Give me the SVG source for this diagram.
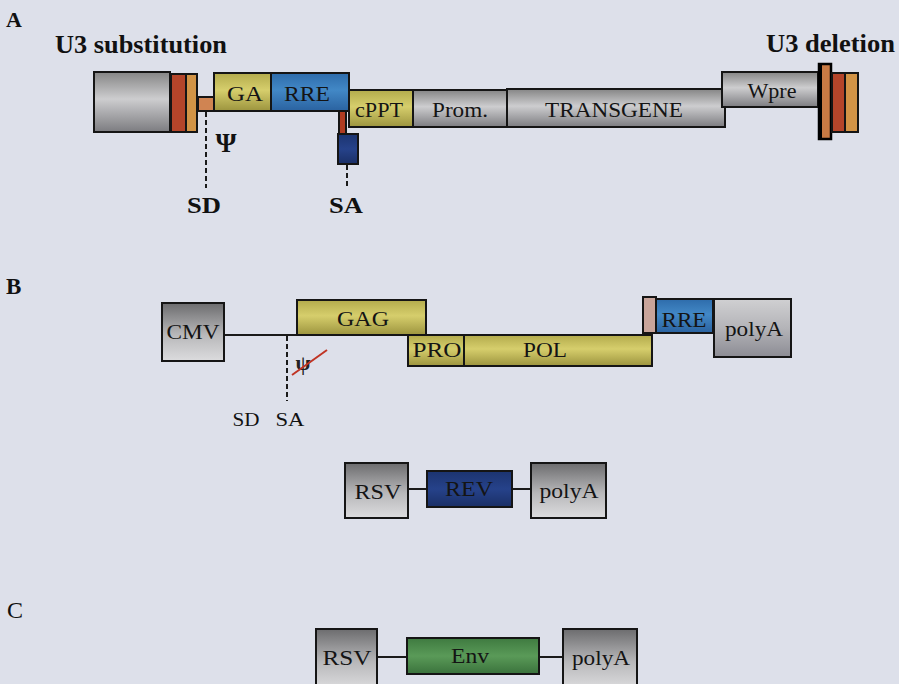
<svg xmlns="http://www.w3.org/2000/svg" width="899" height="684" viewBox="0 0 899 684">
<style>
.box{stroke:#151515;stroke-width:2}
.lbl{font-family:"Liberation Serif","DejaVu Serif",serif;font-size:21px;fill:#141414;text-anchor:middle}
.ttl{font-family:"Liberation Serif","DejaVu Serif",serif;font-weight:bold;fill:#111}
.wire{stroke:#1a1a1a;stroke-width:2;fill:none}
.dash{stroke:#1a1a1a;stroke-width:2;stroke-dasharray:5,3;fill:none}
</style>
<defs>
<linearGradient id="gGray" x1="0" y1="0" x2="0" y2="1"><stop offset="0" stop-color="#858585"/><stop offset="0.45" stop-color="#cdcdcf"/><stop offset="1" stop-color="#7c7c80"/></linearGradient>
<linearGradient id="gGrayB" x1="0" y1="0" x2="0" y2="1"><stop offset="0" stop-color="#6c6c6e"/><stop offset="0.55" stop-color="#b8b8ba"/><stop offset="1" stop-color="#dcdcde"/></linearGradient>
<linearGradient id="gGrayP" x1="0" y1="0" x2="0" y2="1"><stop offset="0" stop-color="#d0d0d2"/><stop offset="0.5" stop-color="#b4b4b8"/><stop offset="1" stop-color="#8c8c94"/></linearGradient>
<linearGradient id="gYel" x1="0" y1="0" x2="0" y2="1"><stop offset="0" stop-color="#b3ab4c"/><stop offset="0.45" stop-color="#d6ce6c"/><stop offset="1" stop-color="#9c943e"/></linearGradient>
<linearGradient id="gBlue" x1="0" y1="0" x2="0" y2="1"><stop offset="0" stop-color="#2e6cab"/><stop offset="0.45" stop-color="#4288c6"/><stop offset="1" stop-color="#2a62a0"/></linearGradient>
<linearGradient id="gDBlue" x1="0" y1="0" x2="0" y2="1"><stop offset="0" stop-color="#1c3470"/><stop offset="0.5" stop-color="#26428a"/><stop offset="1" stop-color="#1a2f66"/></linearGradient>
<linearGradient id="gGreen" x1="0" y1="0" x2="0" y2="1"><stop offset="0" stop-color="#3f7a40"/><stop offset="0.5" stop-color="#5a9a58"/><stop offset="1" stop-color="#3a723c"/></linearGradient>
</defs>
<rect width="899" height="684" fill="#dde0ea"/>

<g id="titles">
<text class="ttl" x="6" y="27" font-size="22">A</text>
<text class="ttl" x="55" y="53" font-size="26" textLength="172" lengthAdjust="spacingAndGlyphs">U3 substitution</text>
<text class="ttl" x="766" y="52" font-size="26" textLength="129" lengthAdjust="spacingAndGlyphs">U3 deletion</text>
<text class="ttl" x="6" y="294" font-size="23">B</text>
<text x="7" y="618" font-family="Liberation Serif, serif" font-size="24" fill="#111">C</text>
</g>

<g id="connectors">
<line class="dash" x1="206" y1="112" x2="206" y2="188"/>
<line class="dash" x1="347" y1="165" x2="347" y2="188"/>
<line class="wire" x1="224" y1="335" x2="297" y2="335"/>
<line class="dash" x1="287" y1="336" x2="287" y2="401"/>
<line class="wire" x1="408" y1="489" x2="427" y2="489"/>
<line class="wire" x1="512" y1="489" x2="531" y2="489"/>
<line class="wire" x1="377" y1="657" x2="407" y2="657"/>
<line class="wire" x1="539" y1="657" x2="563" y2="657"/>
</g>

<!-- Panel A -->
<g id="ltr5">
<rect class="box" x="94" y="72" width="76" height="60" fill="url(#gGray)"/>
<rect class="box" x="171" y="74" width="15" height="58" fill="#b4452a"/>
<rect class="box" x="186" y="74" width="11" height="58" fill="#d29446"/>
</g>
<g id="psi-link">
<rect class="box" x="198" y="97" width="16" height="14" fill="#d08452"/>
</g>
<g id="ga">
<rect class="box" x="214" y="73" width="57" height="38" fill="url(#gYel)"/>
<text class="lbl" x="245" y="101" textLength="36" lengthAdjust="spacingAndGlyphs">GA</text>
</g>
<g id="rre-a">
<rect class="box" x="271" y="73" width="78" height="38" fill="url(#gBlue)"/>
<text class="lbl" x="307" y="101" textLength="46" lengthAdjust="spacingAndGlyphs">RRE</text>
</g>
<g id="sa-site">
<rect class="box" x="339" y="111" width="7" height="24" fill="#b03c22"/>
<rect class="box" x="338" y="134" width="20" height="30" fill="url(#gDBlue)"/>
</g>
<g id="cppt">
<rect class="box" x="349" y="90" width="64" height="37" fill="url(#gYel)"/>
<text class="lbl" x="379" y="117" textLength="48" lengthAdjust="spacingAndGlyphs">cPPT</text>
</g>
<g id="prom">
<rect class="box" x="413" y="90" width="94" height="37" fill="url(#gGray)"/>
<text class="lbl" x="460" y="117" textLength="56" lengthAdjust="spacingAndGlyphs">Prom.</text>
</g>
<g id="transgene">
<rect class="box" x="507" y="89" width="218" height="38" fill="url(#gGray)"/>
<text class="lbl" x="614" y="117" textLength="138" lengthAdjust="spacingAndGlyphs">TRANSGENE</text>
</g>
<g id="wpre">
<rect class="box" x="722" y="72" width="96" height="35" fill="url(#gGray)"/>
<text class="lbl" x="772" y="98" textLength="49" lengthAdjust="spacingAndGlyphs">Wpre</text>
</g>
<g id="ltr3">
<rect x="819" y="64" width="12" height="75" fill="#c87a44" stroke="#000" stroke-width="2.5"/>
<line x1="820" y1="63" x2="820" y2="140" stroke="#000" stroke-width="4"/>
<rect class="box" x="832" y="73" width="13" height="59" fill="#b4452a"/>
<rect class="box" x="845" y="73" width="13" height="59" fill="#d29446"/>
</g>
<g id="labels-a">
<text class="ttl" x="226" y="152" font-size="27" text-anchor="middle">Ψ</text>
<text class="ttl" x="204" y="213" font-size="23" text-anchor="middle" textLength="34" lengthAdjust="spacingAndGlyphs">SD</text>
<text class="ttl" x="346" y="213" font-size="23" text-anchor="middle" textLength="34" lengthAdjust="spacingAndGlyphs">SA</text>
</g>

<!-- Panel B -->
<g id="cmv">
<rect class="box" x="162" y="303" width="62" height="58" fill="url(#gGrayB)"/>
<text class="lbl" x="193" y="339" textLength="53" lengthAdjust="spacingAndGlyphs">CMV</text>
</g>
<g id="gag">
<rect class="box" x="297" y="300" width="129" height="35" fill="url(#gYel)"/>
<text class="lbl" x="363" y="326" textLength="52" lengthAdjust="spacingAndGlyphs">GAG</text>
</g>
<g id="pro">
<rect class="box" x="408" y="335" width="56" height="31" fill="url(#gYel)"/>
<text class="lbl" x="437" y="357" textLength="49" lengthAdjust="spacingAndGlyphs">PRO</text>
</g>
<g id="pol">
<rect class="box" x="464" y="335" width="188" height="31" fill="url(#gYel)"/>
<text class="lbl" x="545" y="357" textLength="44" lengthAdjust="spacingAndGlyphs">POL</text>
</g>
<g id="splice-b">
<rect class="box" x="643" y="297" width="13" height="36" fill="#c8a49a"/>
</g>
<g id="rre-b">
<rect class="box" x="656" y="299" width="57" height="34" fill="url(#gBlue)"/>
<text class="lbl" x="684" y="327" textLength="45" lengthAdjust="spacingAndGlyphs">RRE</text>
</g>
<g id="polya-b">
<rect class="box" x="714" y="299" width="77" height="58" fill="url(#gGrayP)"/>
<text class="lbl" x="754" y="336" textLength="58" lengthAdjust="spacingAndGlyphs">polyA</text>
</g>
<g id="labels-b">
<text x="303" y="370" font-family="Liberation Serif, serif" font-size="22" font-weight="bold" fill="#222" text-anchor="middle">ψ</text>
<line x1="292" y1="375" x2="327" y2="350" stroke="#c03424" stroke-width="2"/>
<text x="246" y="426" font-family="Liberation Serif, serif" font-size="19" fill="#111" text-anchor="middle" textLength="27" lengthAdjust="spacingAndGlyphs">SD</text>
<text x="290" y="426" font-family="Liberation Serif, serif" font-size="19" fill="#111" text-anchor="middle" textLength="29" lengthAdjust="spacingAndGlyphs">SA</text>
</g>

<g id="rsv-1">
<rect class="box" x="345" y="463" width="63" height="55" fill="url(#gGrayB)"/>
<text class="lbl" x="378" y="499" textLength="47" lengthAdjust="spacingAndGlyphs">RSV</text>
</g>
<g id="rev">
<rect class="box" x="427" y="471" width="85" height="36" fill="url(#gDBlue)"/>
<text class="lbl" x="469" y="496" textLength="48" lengthAdjust="spacingAndGlyphs">REV</text>
</g>
<g id="polya-1">
<rect class="box" x="531" y="463" width="75" height="55" fill="url(#gGrayB)"/>
<text class="lbl" x="569" y="498" textLength="59" lengthAdjust="spacingAndGlyphs">polyA</text>
</g>

<!-- Panel C -->
<g id="rsv-2">
<rect class="box" x="316" y="629" width="61" height="60" fill="url(#gGrayB)"/>
<text class="lbl" x="347" y="665" textLength="49" lengthAdjust="spacingAndGlyphs">RSV</text>
</g>
<g id="env">
<rect class="box" x="407" y="638" width="132" height="36" fill="url(#gGreen)"/>
<text class="lbl" x="470" y="663" textLength="38" lengthAdjust="spacingAndGlyphs">Env</text>
</g>
<g id="polya-2">
<rect class="box" x="563" y="629" width="74" height="60" fill="url(#gGrayB)"/>
<text class="lbl" x="601" y="665" textLength="58" lengthAdjust="spacingAndGlyphs">polyA</text>
</g>
</svg>
